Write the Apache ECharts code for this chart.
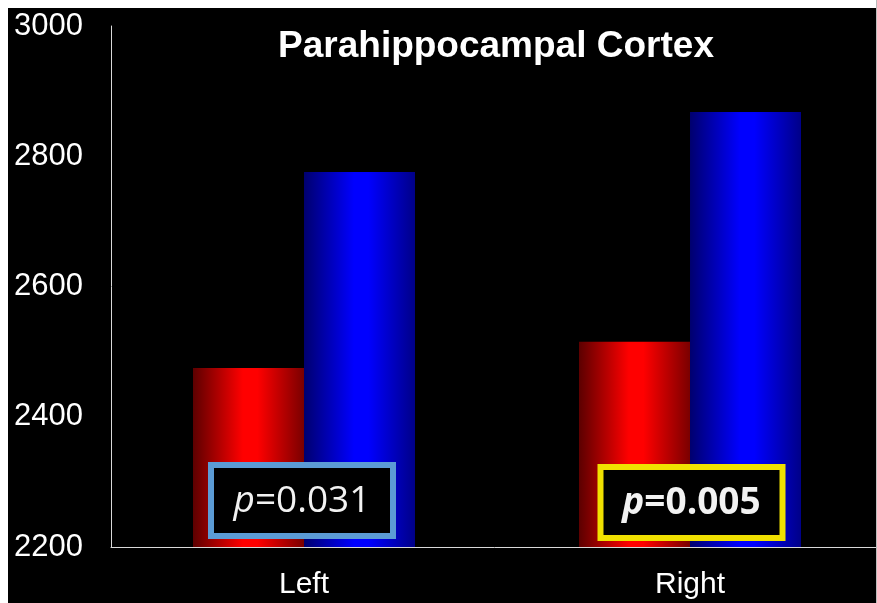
<!DOCTYPE html>
<html>
<head>
<meta charset="utf-8">
<title>Parahippocampal Cortex</title>
<script src="https://cdn.jsdelivr.net/npm/echarts@6/dist/echarts.min.js"></script>
<style>
  html, body { margin: 0; padding: 0; background: #000; }
  #main { width: 877px; height: 603px; }
</style>
</head>
<body>
<div id="main"></div>
<script>
// data
var categories = ['Left', 'Right'];
var redValues = [2475, 2515];
var blueValues = [2776, 2868];
var yTicks = [2200, 2400, 2600, 2800, 3000];
var pLabels = ['0.031', '0.005'];

function barGrad(dark, bright, darkR) {
  return new echarts.graphic.LinearGradient(0, 0, 1, 0, [
    { offset: 0, color: dark },
    { offset: 0.45, color: bright },
    { offset: 0.58, color: bright },
    { offset: 1, color: darkR }
  ]);
}

var chart = echarts.init(document.getElementById('main'));
var option = {
  backgroundColor: '#000',
  animation: false,
  title: {
    text: 'Parahippocampal Cortex',
    left: 491,
    top: 23,
    textAlign: 'center',
    textStyle: { color: '#fff', fontSize: 37, fontWeight: 'bold', fontFamily: 'Liberation Sans, Arial, sans-serif' }
  },
  grid: { left: 111, top: 26, width: 772, bottom: 56, outerBoundsMode: 'none', containLabel: false },
  xAxis: {
    type: 'category',
    data: categories,
    axisLine: { lineStyle: { color: '#d9d9d9', width: 1 } },
    axisTick: { show: false },
    axisLabel: { color: '#fff', fontSize: 30, margin: 23, fontFamily: 'Liberation Sans, Arial, sans-serif' }
  },
  yAxis: {
    type: 'value',
    min: yTicks[0],
    max: yTicks[yTicks.length - 1],
    interval: 200,
    axisLine: { show: true, lineStyle: { color: '#d9d9d9', width: 1 } },
    axisTick: { show: false },
    splitLine: { show: false },
    axisLabel: {
      color: '#fff', fontSize: 31, margin: 28, fontFamily: 'Liberation Sans, Arial, sans-serif',
      formatter: function (v) { return String(v); }
    }
  },
  series: [
    {
      type: 'bar',
      data: redValues,
      barWidth: 111,
      barGap: '0%',
      itemStyle: { color: barGrad('#5c0000', '#ff0000', '#7a0000') }
    },
    {
      type: 'bar',
      data: blueValues,
      barWidth: 111,
      itemStyle: { color: barGrad('#00006e', '#0000ff', '#000088') }
    }
  ]
};
chart.setOption(option);

// p-value boxes placed over each category
var boxes = [
  { cat: 0, border: '#5b9bd5', weight: 'normal', dx: -2, cy: 500.5 },
  { cat: 1, border: '#f0e000', weight: 'bold', dx: 1.5, cy: 502.5 }
];
var graphics = [
  // white page edge showing at top, left and right of the slide
  { type: 'rect', shape: { x: 0, y: 0, width: 877, height: 8 }, style: { fill: '#fff' }, z: 20 },
  { type: 'rect', shape: { x: 0, y: 0, width: 8, height: 603 }, style: { fill: '#fff' }, z: 20 },
  { type: 'rect', shape: { x: 876, y: 0, width: 1, height: 603 }, style: { fill: '#bbb' }, z: 20 }
];
boxes.forEach(function (b, i) {
  var cx = chart.convertToPixel({ xAxisIndex: 0 }, categories[b.cat]) + b.dx;
  graphics.push({
    type: 'rect',
    shape: { x: cx - 91, y: b.cy - 35.5, width: 182, height: 71 },
    style: { fill: '#000', stroke: b.border, lineWidth: 6 },
    z: 10
  });
  graphics.push({
    type: 'text',
    x: cx,
    y: b.cy + 1,
    style: {
      rich: {
        p: { fontStyle: 'italic', fontWeight: b.weight, fontSize: 37, fill: '#f2f2f2', fontFamily: 'Open Sans, Noto Sans, sans-serif' },
        n: { fontWeight: b.weight, fontSize: 37, fill: '#f2f2f2', fontFamily: 'Open Sans, Noto Sans, sans-serif' }
      },
      text: '{p|p}{n|=' + pLabels[i] + '}',
      align: 'center',
      verticalAlign: 'middle'
    },
    z: 11
  });
});
chart.setOption({ graphic: graphics });
</script>
</body>
</html>
